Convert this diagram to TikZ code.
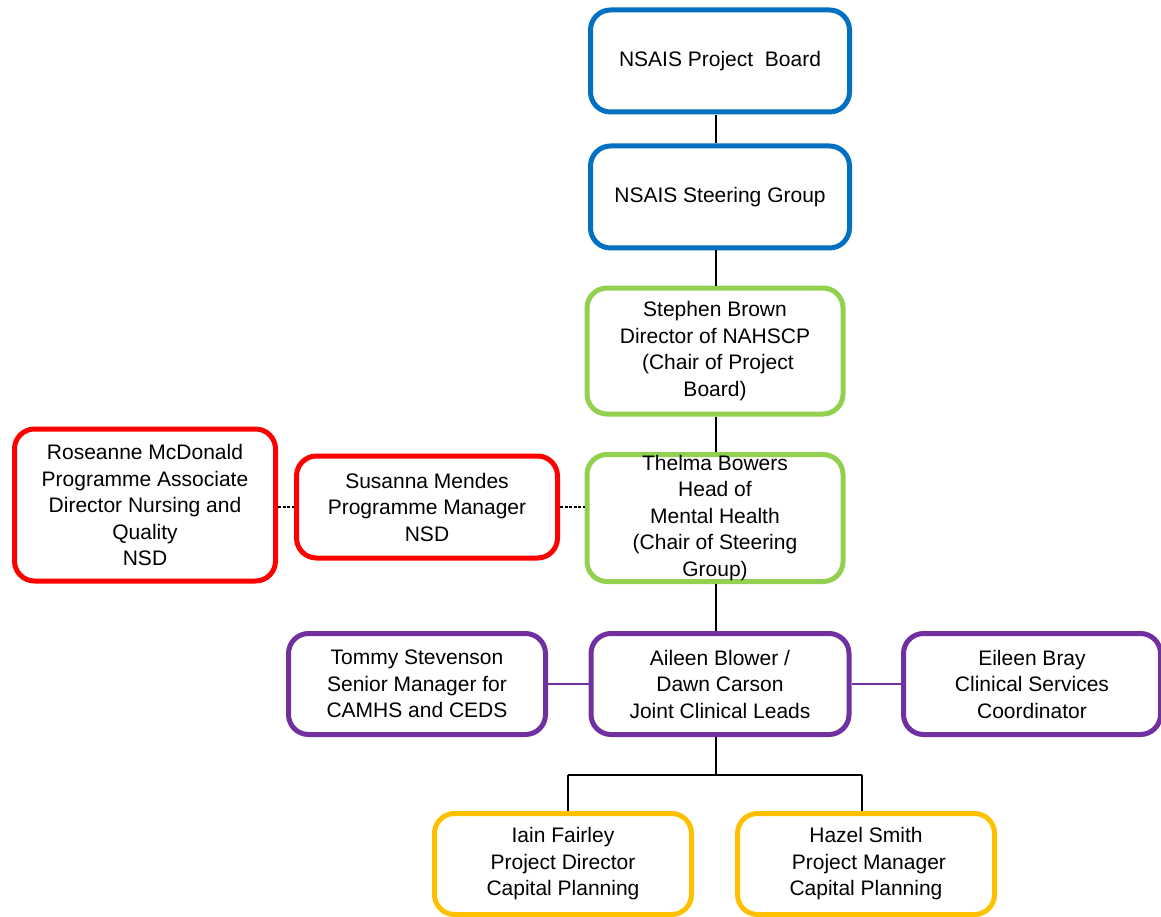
\documentclass[tikz,border=0pt]{standalone}
\usepackage{fontspec}
\setmainfont{Liberation Sans}
\usepackage{tikz}
\usetikzlibrary{positioning,calc}

\definecolor{boardblue}{RGB}{0,112,192}
\definecolor{chairgreen}{RGB}{146,208,80}
\definecolor{nsdred}{RGB}{255,0,0}
\definecolor{leadpurple}{RGB}{112,48,160}
\definecolor{capyellow}{RGB}{255,192,0}

\tikzset{
	orgbox/.style={draw, rounded corners=20pt, line width=5pt, align=center,
		minimum width=259pt, minimum height=102pt, inner sep=0pt,
		font=\fontsize{21}{26.5}\selectfont},
	link/.style={line width=2pt},
}

\begin{document}
\begin{tikzpicture}[x=1pt, y=-1pt]
	\useasboundingbox (0,0) rectangle (1161,917);
	\node[orgbox, draw=boardblue] (board)		at	(720, 61)	{NSAIS Project~~Board};
		\node[orgbox, draw=boardblue] (steer)		at	(720, 197)	{NSAIS Steering Group};
		\node[orgbox, draw=chairgreen, minimum width=256pt, minimum height=126pt] (stephen)	at	(715, 351)
			{Stephen Brown\\Director of NAHSCP\\~(Chair of Project\\Board)};
		\node[orgbox, draw=chairgreen, minimum width=256pt, minimum height=127pt] (thelma)	at	(715, 518)
			{Thelma Bowers\\Head of\\Mental Health\\(Chair of Steering\\Group)};
		\node[orgbox, draw=nsdred, minimum width=261pt] (susanna)	at	(427, 507)
			{Susanna Mendes\\Programme Manager\\NSD};
		\node[orgbox, draw=nsdred, minimum width=261pt, minimum height=152pt] (roseanne)	at	(145, 505)
			{Roseanne McDonald\\Programme Associate\\Director Nursing and\\Quality\\NSD};
		\node[orgbox, draw=leadpurple, minimum width=258pt, minimum height=101pt] (aileen)	at	(720, 684)
			{Aileen Blower /\\Dawn Carson\\Joint Clinical Leads};
		\node[orgbox, draw=leadpurple, minimum width=257pt, minimum height=101pt] (tommy)	at	(417, 684)
			{Tommy Stevenson\\Senior Manager for\\CAMHS and CEDS};
		\node[orgbox, draw=leadpurple, minimum width=257pt, minimum height=101pt] (eileen)	at	(1032, 684)
			{Eileen Bray\\Clinical Services\\Coordinator};
		\node[orgbox, draw=capyellow, minimum width=257pt, minimum height=101pt] (iain)	at	(563, 864)
			{Iain Fairley\\Project Director\\Capital Planning};
		\node[orgbox, draw=capyellow, minimum width=257pt, minimum height=101pt] (hazel)	at	(866, 864)
			{Hazel Smith\\~Project Manager\\Capital Planning};
		\coordinate (split)	at	(716, 775);
		\draw[link] (716, 115) -- (716, 143);
		\draw[link] (716, 250) -- (stephen.north -| split);
		\draw[link] (stephen.south -| split) -- (thelma.north -| split);
		\draw[link] (thelma.south -| split) -- (aileen.north -| split);
		\draw[link, dashed, dash pattern=on 3pt off 1.5pt] (roseanne.east |- susanna) -- (susanna.west);
		\draw[link, dashed, dash pattern=on 3pt off 1.5pt] (susanna.east) -- (thelma.west |- susanna);
		\draw[link, leadpurple] (tommy) -- (aileen);
		\draw[link, leadpurple] (aileen) -- (eileen);
		\draw[link] (aileen.south -| split) -- (split);
		\draw[link] (568, 775) -- (862, 775);
		\draw[link] (568, 775) -- (568, 811);
		\draw[link] (862, 775) -- (862, 811);
	\end{tikzpicture}
\end{document}
